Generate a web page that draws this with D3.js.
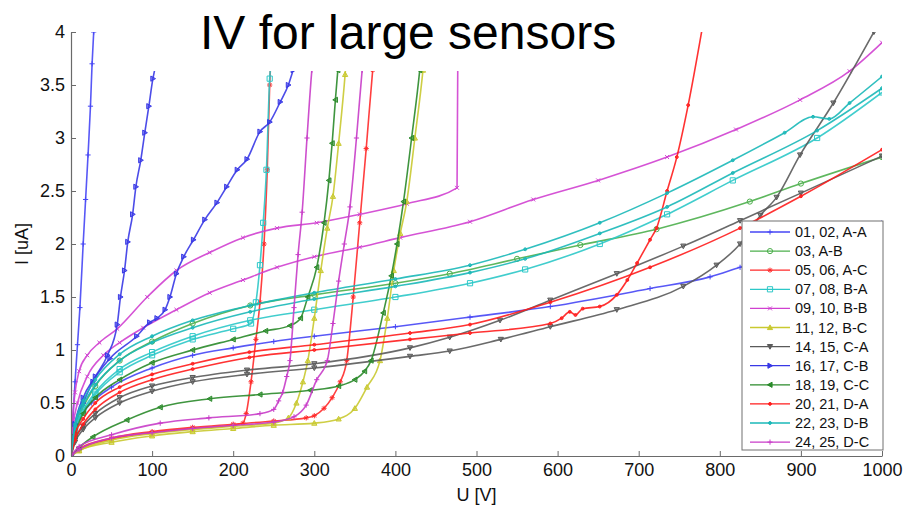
<!DOCTYPE html>
<html><head><meta charset="utf-8">
<script src="https://cdn.jsdelivr.net/npm/d3@7"></script>
<style>
body{margin:0;background:#fff;}
text{font-family:"Liberation Sans",Arial,Helvetica,sans-serif;}
</style>
</head><body>
<svg id="chart" width="914" height="512"></svg>
<script>
// ---------- data ----------
const legendLabels = ["01, 02, A-A","03, A-B","05, 06, A-C","07, 08, B-A","09, 10, B-B","11, 12, B-C","14, 15, C-A","16, 17, C-B","18, 19, C-C","20, 21, D-A","22, 23, D-B","24, 25, D-C"];
const seriesColors = ["#4646f5","#4caf4c","#ff2a2a","#2cc8c8","#d040d0","#c9c930","#5a5a5a","#3838e6","#2a8a2a","#ff1c1c","#1ab8b8","#c83cc8"];
const seriesMarkers = ["+","o","*","s","x","^","v",">","<",".",".","+"];
const xTicks = [0,100,200,300,400,500,600,700,800,900,1000];
const yTicks = [0,0.5,1,1.5,2,2.5,3,3.5,4];
const yTickLabels = ["0","0.5","1","1.5","2","2.5","3","3.5","4"];
const titleText = "IV for large sensors";
const xLabel = "U [V]";
const yLabel = "I [uA]";

// each curve: [U (V), I (uA)]
const aa01 = [[0,0],[2,0.3],[5,0.7],[8,1.05],[11,1.4],[15,2.0],[18,2.42],[21,2.84],[24,3.3],[26,3.7],[28,4.0]];
const aa02 = [[0,0],[5,0.25],[10,0.35],[25,0.5],[50,0.65],[100,0.83],[150,0.95],[200,1.02],[250,1.08],[300,1.13],[400,1.22],[492,1.31],[591,1.41],[714,1.58],[788,1.69],[825,1.78],[900,1.95],[1000,2.2]];
const ab03 = [[0,0],[5,0.26],[15,0.46],[30,0.66],[60,0.9],[100,1.08],[150,1.25],[221,1.42],[300,1.52],[400,1.63],[467,1.72],[550,1.86],[628,1.99],[722,2.14],[837,2.4],[900,2.57],[1000,2.82]];
const ac05 = [[0,0],[10,0.06],[50,0.16],[100,0.22],[150,0.26],[200,0.29],[212,0.31],[216,0.4],[222,0.7],[228,1.1],[233,1.45],[238,2.0],[242,2.7],[245,3.5],[247,3.8]];
const ac06 = [[0,0],[10,0.07],[50,0.17],[100,0.23],[150,0.27],[200,0.3],[250,0.33],[290,0.36],[300,0.38],[312,0.45],[322,0.55],[332,0.7],[340,0.9],[348,1.5],[356,2.2],[364,2.9],[372,3.64],[374,3.8]];
const ba07 = [[0,0],[5,0.25],[15,0.43],[30,0.6],[60,0.82],[100,0.98],[150,1.13],[221,1.28],[300,1.38],[400,1.5],[492,1.63],[560,1.76],[652,2.0],[735,2.28],[816,2.6],[920,3.0],[1000,3.43]];
const ba08 = [[0,0],[5,0.24],[15,0.41],[30,0.58],[60,0.79],[100,0.95],[150,1.1],[200,1.2],[222,1.25],[228,1.45],[233,1.8],[237,2.2],[241,2.7],[245,3.56],[247,3.75]];
const bb09 = [[0,0],[2,0.35],[5,0.6],[10,0.8],[20,0.95],[35,1.07],[57,1.2],[94,1.5],[130,1.75],[171,1.92],[212,2.06],[254,2.15],[303,2.2],[356,2.28],[414,2.38],[476,2.53],[477,3.8]];
const bb10 = [[0,0],[3,0.3],[8,0.5],[20,0.75],[40,0.95],[60,1.07],[89,1.21],[130,1.38],[171,1.54],[212,1.66],[254,1.78],[300,1.88],[356,1.97],[406,2.06],[492,2.21],[570,2.42],[650,2.6],[735,2.82],[820,3.08],[899,3.36],[960,3.63],[1000,3.9]];
const bc11 = [[0,0],[10,0.05],[50,0.15],[100,0.21],[150,0.25],[200,0.28],[250,0.31],[268,0.36],[278,0.5],[286,0.7],[292,0.9],[300,1.3],[308,1.75],[316,2.15],[323,2.45],[330,2.95],[338,3.6],[340,3.8]];
const bc12 = [[0,0],[10,0.05],[50,0.13],[100,0.19],[150,0.23],[200,0.26],[250,0.29],[300,0.31],[330,0.35],[350,0.45],[365,0.65],[381,0.9],[390,1.3],[398,1.75],[406,2.1],[414,2.4],[424,3.0],[434,3.64],[436,3.8]];
const ca14 = [[0,0],[5,0.15],[15,0.28],[30,0.4],[60,0.55],[100,0.66],[150,0.74],[217,0.81],[300,0.87],[418,1.02],[467,1.12],[529,1.28],[591,1.47],[673,1.72],[755,1.98],[825,2.22],[900,2.48],[1000,2.83]];
const ca15 = [[0,0],[5,0.13],[15,0.25],[30,0.36],[60,0.5],[100,0.61],[150,0.7],[217,0.77],[300,0.83],[418,0.94],[467,0.99],[530,1.1],[591,1.22],[673,1.38],[755,1.6],[796,1.8],[825,2.0],[850,2.27],[870,2.44],[899,2.84],[940,3.33],[990,4.0]];
const cb16 = [[0,0],[5,0.3],[15,0.55],[30,0.75],[45,0.95],[57,1.24],[61,1.5],[66,1.75],[70,2.02],[76,2.28],[80,2.54],[86,2.79],[91,3.05],[96,3.3],[101,3.56],[105,3.7]];
const cb17 = [[0,0],[5,0.3],[15,0.5],[27,0.7],[48,0.92],[81,1.13],[97,1.26],[106,1.3],[116,1.38],[122,1.5],[130,1.72],[139,1.88],[151,2.04],[165,2.23],[180,2.39],[192,2.54],[205,2.7],[217,2.8],[233,3.06],[245,3.15],[258,3.34],[268,3.5],[274,3.64],[280,3.75]];
const cc18 = [[0,0],[5,0.2],[15,0.4],[30,0.55],[60,0.72],[100,0.88],[150,1.0],[200,1.1],[240,1.18],[270,1.23],[283,1.3],[292,1.5],[303,1.78],[312,2.2],[318,2.6],[322,2.95],[326,3.36],[329,3.64],[331,3.8]];
const cc19 = [[0,0],[10,0.08],[27,0.18],[69,0.34],[110,0.46],[171,0.54],[233,0.58],[295,0.62],[330,0.66],[350,0.72],[362,0.8],[370,0.9],[385,1.35],[395,1.7],[402,2.0],[410,2.4],[420,3.0],[430,3.64],[432,3.8]];
const da20 = [[0,0],[5,0.2],[15,0.35],[30,0.5],[60,0.65],[100,0.77],[150,0.87],[220,0.98],[300,1.05],[418,1.16],[492,1.24],[591,1.45],[714,1.78],[825,2.15],[900,2.45],[1000,2.89]];
const da21 = [[0,0],[5,0.15],[15,0.3],[30,0.44],[60,0.6],[100,0.72],[150,0.82],[220,0.93],[300,1.0],[418,1.1],[492,1.16],[591,1.25],[605,1.3],[615,1.36],[622,1.33],[631,1.39],[652,1.41],[673,1.52],[686,1.66],[698,1.82],[714,2.04],[722,2.15],[735,2.5],[747,2.82],[761,3.31],[778,4.02]];
const db22 = [[0,0],[5,0.3],[15,0.52],[30,0.72],[60,0.96],[100,1.13],[150,1.28],[221,1.42],[300,1.54],[400,1.67],[492,1.8],[560,1.95],[652,2.2],[735,2.48],[816,2.79],[880,3.05],[915,3.2],[935,3.18],[960,3.33],[1000,3.58]];
const db23 = [[0,0],[5,0.28],[15,0.48],[30,0.67],[60,0.9],[100,1.07],[150,1.21],[221,1.36],[300,1.48],[400,1.6],[492,1.73],[560,1.86],[652,2.1],[735,2.35],[816,2.67],[920,3.07],[1000,3.47]];
const dc24 = [[0,0],[10,0.09],[50,0.2],[110,0.31],[170,0.36],[233,0.4],[250,0.44],[256,0.52],[261,0.6],[266,0.75],[270,0.9],[275,1.4],[280,1.9],[285,2.3],[291,3.0],[297,3.64],[299,3.8]];
const dc25 = [[0,0],[10,0.06],[50,0.17],[100,0.22],[150,0.26],[200,0.29],[250,0.32],[275,0.37],[290,0.48],[303,0.72],[316,0.9],[323,1.25],[330,1.65],[337,2.0],[344,2.35],[352,3.0],[359,3.64],[361,3.8]];

const curves = [
  {s:0,d:aa01},{s:0,d:aa02},{s:1,d:ab03},{s:2,d:ac05},{s:2,d:ac06},
  {s:3,d:ba07},{s:3,d:ba08},{s:4,d:bb09},{s:4,d:bb10},{s:5,d:bc11},{s:5,d:bc12},
  {s:6,d:ca14},{s:6,d:ca15},{s:7,d:cb16},{s:7,d:cb17},{s:8,d:cc18},{s:8,d:cc19},
  {s:9,d:da20},{s:9,d:da21},{s:10,d:db22},{s:10,d:db23},{s:11,d:dc24},{s:11,d:dc25}
];

// ---------- drawing ----------
const svg = d3.select("#chart");
const W = 914, H = 512;
const m = {left:71, right:914-882, top:32, bottom:512-456};
const x = d3.scaleLinear().domain([0,1000]).range([m.left, W-m.right]);
const y = d3.scaleLinear().domain([0,4]).range([H-m.bottom, m.top]);

svg.append("defs").append("clipPath").attr("id","plotclip")
  .append("rect").attr("x",x(0)).attr("y",y(4)).attr("width",x(1000)-x(0)).attr("height",y(0)-y(4));

function markerPath(t, r){
  switch(t){
    case "+": return `M${-r},0H${r}M0,${-r}V${r}`;
    case "x": return `M${-r*0.75},${-r*0.75}L${r*0.75},${r*0.75}M${-r*0.75},${r*0.75}L${r*0.75},${-r*0.75}`;
    case "*": return `M${-r},0H${r}M0,${-r}V${r}M${-r*0.7},${-r*0.7}L${r*0.7},${r*0.7}M${-r*0.7},${r*0.7}L${r*0.7},${-r*0.7}`;
    case "o": return `M${r},0A${r},${r},0,1,1,${-r},0A${r},${r},0,1,1,${r},0Z`;
    case "s": return `M${-r},${-r}H${r}V${r}H${-r}Z`;
    case "^": return `M0,${-r}L${r},${r*0.8}L${-r},${r*0.8}Z`;
    case "v": return `M0,${r}L${r},${-r*0.8}L${-r},${-r*0.8}Z`;
    case ">": return `M${r},0L${-r*0.8},${-r}L${-r*0.8},${r}Z`;
    case "<": return `M${-r},0L${r*0.8},${-r}L${r*0.8},${r}Z`;
    case ".": return `M${r*0.55},0A${r*0.55},${r*0.55},0,1,1,${-r*0.55},0A${r*0.55},${r*0.55},0,1,1,${r*0.55},0Z`;
  }
  return "";
}
const filledMarkers = new Set([".","*","^","v",">","<"]);

const line = d3.line().x(d=>x(d[0])).y(d=>y(d[1])).curve(d3.curveMonotoneX);

const plot = svg.append("g").attr("clip-path","url(#plotclip)");
curves.forEach(c=>{
  const col = seriesColors[c.s], mk = seriesMarkers[c.s];
  const g = plot.append("g");
  g.append("path").datum(c.d).attr("d",line)
    .attr("fill","none").attr("stroke",col).attr("stroke-width",1.6).attr("stroke-opacity",0.9);
  g.selectAll("path.mk").data(c.d).enter().append("path").attr("class","mk")
    .attr("transform",d=>`translate(${x(d[0])},${y(d[1])})`)
    .attr("d",markerPath(mk,2.6))
    .attr("fill",filledMarkers.has(mk)?col:"none")
    .attr("fill-opacity",0.6)
    .attr("stroke",col).attr("stroke-width",1);
});

// axes (MATLAB style: inward ticks)
const xAxis = d3.axisBottom(x).tickValues(xTicks).tickFormat(d3.format("d")).tickSizeInner(-5).tickSizeOuter(0).tickPadding(7);
const yAxis = d3.axisLeft(y).tickValues(yTicks).tickFormat((d,i)=>yTickLabels[i]).tickSizeInner(-5).tickSizeOuter(0).tickPadding(6);
const gx = svg.append("g").attr("transform",`translate(0,${y(0)})`).call(xAxis);
const gy = svg.append("g").attr("transform",`translate(${x(0)},0)`).call(yAxis);
[gx,gy].forEach(g=>{
  g.select(".domain").attr("stroke","#6a6a6a").attr("stroke-width",1.2);
  g.selectAll(".tick line").attr("stroke","#6a6a6a");
  g.selectAll(".tick text").attr("fill","#111").style("font-size","18px").style("font-family","'Liberation Sans',Arial,sans-serif");
});

// white title box covering upper area
svg.append("rect").attr("x",112).attr("y",0).attr("width",548).attr("height",71).attr("fill","#fff");
svg.append("text").attr("x",200).attr("y",49).text(titleText)
  .style("font-size","48px").attr("fill","#000");

// axis labels
svg.append("text").attr("x",(x(0)+x(1000))/2).attr("y",501).attr("text-anchor","middle")
  .style("font-size","18px").attr("fill","#111").text(xLabel);
svg.append("text").attr("transform",`translate(28,${(y(0)+y(4))/2}) rotate(-90)`).attr("text-anchor","middle")
  .style("font-size","18px").attr("fill","#111").text(yLabel);

// legend
const lg = svg.append("g");
const lx = 742, ly = 221, lw = 141, lh = 229;
lg.append("rect").attr("x",lx).attr("y",ly).attr("width",lw).attr("height",lh)
  .attr("fill","#fff").attr("stroke","#707070").attr("stroke-width",1);
legendLabels.forEach((lab,i)=>{
  const yy = ly + 11 + i*19.1;
  const col = seriesColors[i], mk = seriesMarkers[i];
  lg.append("line").attr("x1",lx+8).attr("x2",lx+48).attr("y1",yy).attr("y2",yy)
    .attr("stroke",col).attr("stroke-width",1.3);
  lg.append("path").attr("transform",`translate(${lx+28},${yy})`).attr("d",markerPath(mk,2.6))
    .attr("fill",filledMarkers.has(mk)?col:"none").attr("stroke",col).attr("stroke-width",1);
  lg.append("text").attr("x",lx+53).attr("y",yy).attr("dy","0.35em")
    .style("font-size","14.5px").attr("fill","#111").text(lab);
});
</script>
</body></html>
